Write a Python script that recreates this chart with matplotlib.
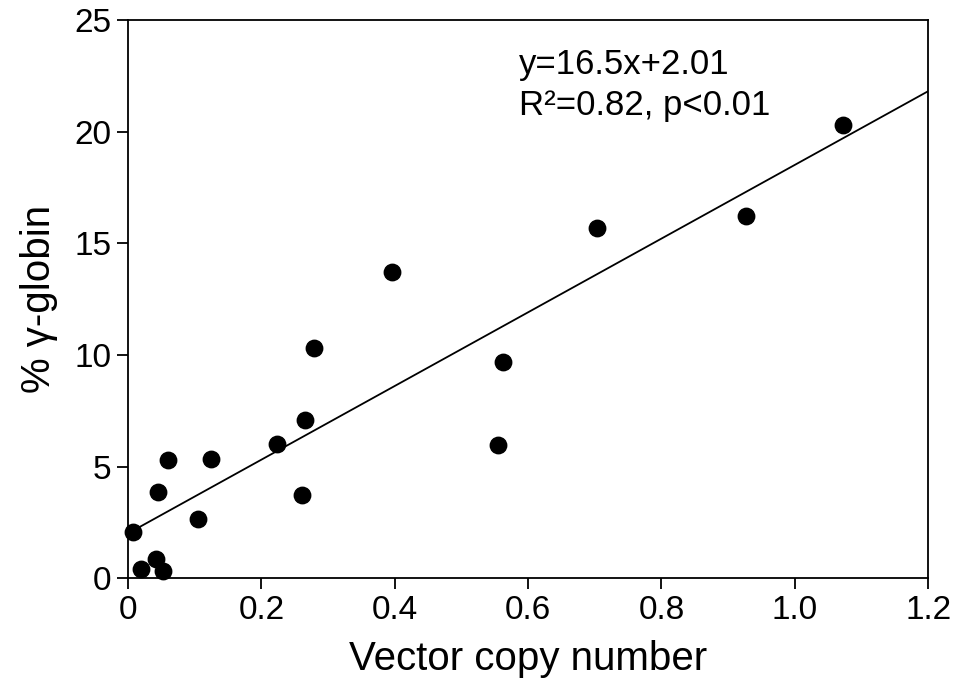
import matplotlib
matplotlib.use("Agg")
import matplotlib.pyplot as plt
import numpy as np

plt.rcParams['font.family'] = ['Liberation Sans', 'DejaVu Sans']

vcn = [0.0075, 0.0195, 0.042, 0.0525, 0.045, 0.06, 0.105, 0.1245, 0.2235, 0.261,
       0.2655, 0.279, 0.396, 0.555, 0.5625, 0.7035, 0.927, 1.0725]
gamma = [2.06, 0.40, 0.85, 0.31, 3.85, 5.29, 2.64, 5.33, 6.0, 3.72,
         7.08, 10.3, 13.7, 5.96, 9.68, 15.68, 16.2, 20.3]
slope, intercept = 16.5, 2.01
x_ticks = [0, 0.2, 0.4, 0.6, 0.8, 1.0, 1.2]
x_ticklabels = ['0', '0.2', '0.4', '0.6', '0.8', '1.0', '1.2']
y_ticks = [0, 5, 10, 15, 20, 25]

fig = plt.figure(figsize=(9.55, 6.86), dpi=100)
ax = fig.add_axes([0.134, 0.157, 0.838, 0.814])
ax.scatter(vcn, gamma, s=140, color='black', zorder=3, clip_on=False)
xl = np.array([0, 1.2])
ax.plot(xl, slope * xl + intercept, color='black', lw=1.3)
ax.set_xlim(0, 1.2)
ax.set_ylim(0, 25)
ax.set_xticks(x_ticks)
ax.set_xticklabels(x_ticklabels)
ax.set_yticks(y_ticks)
ax.tick_params(direction='out', length=8, width=1.3, labelsize=24, pad=4)
for sp in ax.spines.values():
    sp.set_linewidth(1.3)
ax.set_xlabel('Vector copy number', fontsize=29, labelpad=10)
ax.set_ylabel('% \u03b3-globin', fontsize=29, labelpad=12)
ax.text(0.488, 0.95, 'y=16.5x+2.01\nR\u00b2=0.82, p<0.01', transform=ax.transAxes,
        fontsize=25, va='top', ha='left', linespacing=1.3)
fig.savefig('out.png', dpi=100)
